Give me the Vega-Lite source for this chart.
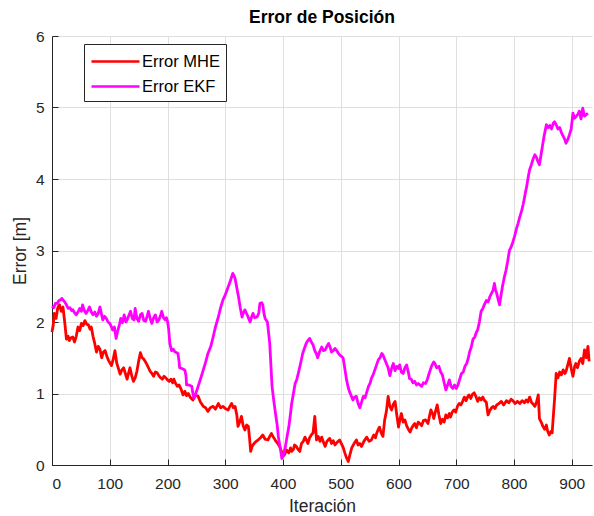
{
  "$schema": "https://vega.github.io/schema/vega-lite/v6.json",
  "width": 540,
  "height": 429,
  "autosize": {"type": "none"},
  "padding": {"left": 52, "top": 36, "right": 2, "bottom": 51},
  "background": "white",
  "title": {"text": "Error de Posición", "fontSize": 17.5, "fontWeight": "bold", "font": "Liberation Sans", "color": "#000000", "offset": 3, "anchor": "middle"},
  "config": {
    "view": {"stroke": null},
    "font": "Liberation Sans",
    "axis": {
      "domainColor": "#262626", "domainWidth": 1, "tickColor": "#262626", "tickSize": -6, "tickWidth": 1,
      "gridColor": "#dfdfdf", "gridWidth": 1,
      "labelFont": "Liberation Sans", "labelFontSize": 15.5, "labelColor": "#262626",
      "titleFont": "Liberation Sans", "titleFontSize": 17.5, "titleColor": "#262626", "titleFontWeight": "normal"
    },
    "axisX": {"labelPadding": 17, "titlePadding": 6},
    "axisY": {"labelPadding": 14, "titlePadding": 6},
    "legend": {
      "orient": "none", "legendX": 32, "legendY": 8, "strokeColor": "#262626", "fillColor": "white", "padding": 6,
      "labelFont": "Liberation Sans", "labelFontSize": 16.5, "labelColor": "#000000", "labelOffset": 29,
      "symbolType": "M-1,0H3.8", "symbolSize": 400, "symbolStrokeWidth": 2.5, "rowPadding": 5
    }
  },
  "layer": [
    {
      "data": {"values": [
        {"i":0,"e":1.86},{"i":2,"e":1.95},{"i":4,"e":2.12},{"i":7,"e":2.05},{"i":10,"e":2.2},{"i":13,"e":2.24},{"i":16,"e":2.15},{"i":19,"e":2.21},{"i":22,"e":2.0},{"i":25,"e":1.76},{"i":28,"e":1.8},{"i":30,"e":1.74},{"i":33,"e":1.78},{"i":36,"e":1.79},{"i":39,"e":1.72},{"i":42,"e":1.8},{"i":45,"e":1.93},{"i":48,"e":1.88},{"i":51,"e":1.98},{"i":54,"e":1.95},{"i":57,"e":2.02},{"i":60,"e":1.97},{"i":63,"e":1.96},{"i":66,"e":1.9},{"i":68,"e":1.93},{"i":71,"e":1.8},{"i":74,"e":1.7},{"i":77,"e":1.58},{"i":80,"e":1.66},{"i":83,"e":1.62},{"i":86,"e":1.5},{"i":89,"e":1.58},{"i":92,"e":1.6},{"i":95,"e":1.52},{"i":98,"e":1.46},{"i":101,"e":1.42},{"i":103,"e":1.39},{"i":106,"e":1.48},{"i":109,"e":1.6},{"i":112,"e":1.43},{"i":115,"e":1.35},{"i":118,"e":1.27},{"i":121,"e":1.33},{"i":124,"e":1.36},{"i":127,"e":1.28},{"i":130,"e":1.2},{"i":133,"e":1.3},{"i":135,"e":1.36},{"i":138,"e":1.25},{"i":141,"e":1.17},{"i":144,"e":1.22},{"i":147,"e":1.31},{"i":150,"e":1.45},{"i":153,"e":1.57},{"i":156,"e":1.5},{"i":159,"e":1.48},{"i":162,"e":1.44},{"i":164,"e":1.41},{"i":167,"e":1.36},{"i":170,"e":1.31},{"i":173,"e":1.28},{"i":176,"e":1.24},{"i":179,"e":1.3},{"i":182,"e":1.29},{"i":185,"e":1.25},{"i":188,"e":1.22},{"i":191,"e":1.2},{"i":194,"e":1.24},{"i":197,"e":1.22},{"i":200,"e":1.19},{"i":203,"e":1.17},{"i":206,"e":1.2},{"i":209,"e":1.15},{"i":211,"e":1.2},{"i":214,"e":1.14},{"i":217,"e":1.1},{"i":220,"e":1.12},{"i":224,"e":1.05},{"i":227,"e":0.98},{"i":230,"e":1.03},{"i":233,"e":0.97},{"i":236,"e":1.0},{"i":240,"e":0.94},{"i":244,"e":0.91},{"i":248,"e":0.98},{"i":253,"e":0.96},{"i":257,"e":0.88},{"i":262,"e":0.82},{"i":266,"e":0.8},{"i":270,"e":0.75},{"i":274,"e":0.8},{"i":279,"e":0.82},{"i":283,"e":0.78},{"i":288,"e":0.86},{"i":292,"e":0.8},{"i":296,"e":0.82},{"i":300,"e":0.79},{"i":305,"e":0.77},{"i":308,"e":0.82},{"i":311,"e":0.86},{"i":314,"e":0.8},{"i":317,"e":0.82},{"i":320,"e":0.7},{"i":322,"e":0.54},{"i":325,"e":0.6},{"i":328,"e":0.68},{"i":331,"e":0.55},{"i":334,"e":0.49},{"i":337,"e":0.56},{"i":340,"e":0.54},{"i":342,"e":0.38},{"i":344,"e":0.19},{"i":346,"e":0.25},{"i":348,"e":0.28},{"i":352,"e":0.32},{"i":357,"e":0.35},{"i":361,"e":0.38},{"i":365,"e":0.42},{"i":369,"e":0.36},{"i":374,"e":0.35},{"i":377,"e":0.4},{"i":380,"e":0.44},{"i":384,"e":0.38},{"i":388,"e":0.33},{"i":391,"e":0.3},{"i":394,"e":0.26},{"i":397,"e":0.2},{"i":400,"e":0.12},{"i":403,"e":0.15},{"i":406,"e":0.21},{"i":410,"e":0.17},{"i":413,"e":0.24},{"i":415,"e":0.19},{"i":418,"e":0.22},{"i":420,"e":0.28},{"i":423,"e":0.26},{"i":426,"e":0.22},{"i":429,"e":0.19},{"i":432,"e":0.3},{"i":435,"e":0.33},{"i":438,"e":0.39},{"i":441,"e":0.34},{"i":443,"e":0.3},{"i":446,"e":0.38},{"i":449,"e":0.42},{"i":452,"e":0.45},{"i":455,"e":0.68},{"i":458,"e":0.35},{"i":461,"e":0.4},{"i":464,"e":0.33},{"i":467,"e":0.39},{"i":470,"e":0.32},{"i":473,"e":0.26},{"i":476,"e":0.33},{"i":479,"e":0.36},{"i":481,"e":0.37},{"i":484,"e":0.3},{"i":487,"e":0.34},{"i":490,"e":0.28},{"i":494,"e":0.32},{"i":498,"e":0.35},{"i":501,"e":0.3},{"i":504,"e":0.25},{"i":507,"e":0.17},{"i":510,"e":0.1},{"i":513,"e":0.05},{"i":516,"e":0.15},{"i":519,"e":0.24},{"i":523,"e":0.3},{"i":527,"e":0.35},{"i":530,"e":0.28},{"i":533,"e":0.3},{"i":536,"e":0.26},{"i":540,"e":0.33},{"i":545,"e":0.39},{"i":549,"e":0.33},{"i":553,"e":0.35},{"i":557,"e":0.42},{"i":560,"e":0.38},{"i":562,"e":0.44},{"i":565,"e":0.5},{"i":567,"e":0.53},{"i":570,"e":0.45},{"i":573,"e":0.4},{"i":576,"e":0.63},{"i":579,"e":0.75},{"i":582,"e":0.96},{"i":585,"e":0.82},{"i":588,"e":0.77},{"i":591,"e":0.85},{"i":594,"e":0.89},{"i":597,"e":0.7},{"i":600,"e":0.53},{"i":603,"e":0.66},{"i":605,"e":0.72},{"i":608,"e":0.6},{"i":611,"e":0.63},{"i":614,"e":0.55},{"i":617,"e":0.5},{"i":620,"e":0.46},{"i":623,"e":0.52},{"i":626,"e":0.56},{"i":628,"e":0.58},{"i":631,"e":0.52},{"i":634,"e":0.6},{"i":637,"e":0.58},{"i":640,"e":0.55},{"i":643,"e":0.62},{"i":647,"e":0.63},{"i":651,"e":0.58},{"i":654,"e":0.7},{"i":656,"e":0.77},{"i":659,"e":0.72},{"i":661,"e":0.65},{"i":664,"e":0.75},{"i":667,"e":0.84},{"i":670,"e":0.7},{"i":673,"e":0.58},{"i":676,"e":0.64},{"i":679,"e":0.6},{"i":682,"e":0.7},{"i":685,"e":0.66},{"i":688,"e":0.72},{"i":690,"e":0.67},{"i":693,"e":0.74},{"i":696,"e":0.77},{"i":699,"e":0.74},{"i":702,"e":0.82},{"i":705,"e":0.86},{"i":708,"e":0.84},{"i":711,"e":0.89},{"i":714,"e":0.95},{"i":717,"e":0.9},{"i":720,"e":0.96},{"i":722,"e":0.98},{"i":725,"e":0.93},{"i":728,"e":0.99},{"i":731,"e":1.01},{"i":734,"e":0.96},{"i":737,"e":0.89},{"i":740,"e":0.94},{"i":743,"e":0.91},{"i":746,"e":0.95},{"i":749,"e":0.9},{"i":752,"e":0.88},{"i":755,"e":0.7},{"i":758,"e":0.76},{"i":761,"e":0.8},{"i":764,"e":0.82},{"i":767,"e":0.79},{"i":770,"e":0.84},{"i":774,"e":0.86},{"i":778,"e":0.89},{"i":782,"e":0.84},{"i":787,"e":0.9},{"i":791,"e":0.87},{"i":795,"e":0.92},{"i":798,"e":0.9},{"i":802,"e":0.86},{"i":806,"e":0.89},{"i":810,"e":0.86},{"i":814,"e":0.9},{"i":818,"e":0.87},{"i":821,"e":0.91},{"i":824,"e":0.88},{"i":827,"e":0.95},{"i":830,"e":0.88},{"i":833,"e":0.85},{"i":836,"e":0.82},{"i":839,"e":0.88},{"i":842,"e":0.98},{"i":844,"e":0.65},{"i":847,"e":0.6},{"i":850,"e":0.54},{"i":853,"e":0.5},{"i":856,"e":0.56},{"i":858,"e":0.48},{"i":861,"e":0.42},{"i":864,"e":0.47},{"i":866,"e":0.45},{"i":868,"e":0.68},{"i":870,"e":0.9},{"i":873,"e":1.28},{"i":876,"e":1.22},{"i":879,"e":1.3},{"i":882,"e":1.26},{"i":885,"e":1.33},{"i":888,"e":1.28},{"i":890,"e":1.31},{"i":893,"e":1.4},{"i":896,"e":1.49},{"i":899,"e":1.35},{"i":902,"e":1.24},{"i":905,"e":1.38},{"i":907,"e":1.42},{"i":910,"e":1.36},{"i":913,"e":1.45},{"i":916,"e":1.49},{"i":919,"e":1.42},{"i":922,"e":1.61},{"i":925,"e":1.5},{"i":928,"e":1.66},{"i":930,"e":1.45}
      ]},
      "mark": {"type": "line", "strokeWidth": 2.8, "strokeJoin": "round"},
      "encoding": {
        "x": {"field": "i", "type": "quantitative", "scale": {"domain": [0, 935], "nice": false, "zero": false}, "axis": {"values": [0,100,200,300,400,500,600,700,800,900], "title": "Iteración"}},
        "y": {"field": "e", "type": "quantitative", "scale": {"domain": [0, 6], "nice": false}, "axis": {"values": [0,1,2,3,4,5,6], "format": "d", "title": "Error [m]"}},
        "color": {"datum": "Error MHE", "type": "nominal", "scale": {"domain": ["Error MHE", "Error EKF"], "range": ["#ff0000", "#ff00ff"]}, "legend": {"title": null}}
      }
    },
    {
      "data": {"values": [
        {"i":0,"e":2.22},{"i":3,"e":2.2},{"i":6,"e":2.26},{"i":9,"e":2.26},{"i":12,"e":2.3},{"i":15,"e":2.31},{"i":17,"e":2.33},{"i":20,"e":2.3},{"i":22,"e":2.28},{"i":25,"e":2.24},{"i":28,"e":2.19},{"i":31,"e":2.2},{"i":34,"e":2.16},{"i":36,"e":2.17},{"i":39,"e":2.13},{"i":42,"e":2.1},{"i":45,"e":2.14},{"i":48,"e":2.19},{"i":51,"e":2.15},{"i":53,"e":2.24},{"i":56,"e":2.16},{"i":59,"e":2.12},{"i":62,"e":2.16},{"i":65,"e":2.21},{"i":68,"e":2.14},{"i":71,"e":2.1},{"i":74,"e":2.14},{"i":77,"e":2.08},{"i":80,"e":2.12},{"i":83,"e":2.21},{"i":86,"e":2.1},{"i":88,"e":2.03},{"i":91,"e":2.08},{"i":94,"e":2.05},{"i":97,"e":2.0},{"i":100,"e":1.98},{"i":103,"e":1.93},{"i":105,"e":1.89},{"i":108,"e":1.93},{"i":111,"e":1.77},{"i":113,"e":1.85},{"i":115,"e":1.91},{"i":117,"e":1.97},{"i":119,"e":2.05},{"i":122,"e":1.99},{"i":125,"e":2.1},{"i":128,"e":2.0},{"i":130,"e":2.03},{"i":133,"e":2.09},{"i":136,"e":2.15},{"i":139,"e":2.05},{"i":142,"e":2.03},{"i":144,"e":2.19},{"i":147,"e":2.05},{"i":150,"e":2.01},{"i":153,"e":2.1},{"i":156,"e":2.12},{"i":159,"e":2.02},{"i":162,"e":2.01},{"i":165,"e":2.09},{"i":167,"e":2.15},{"i":170,"e":2.05},{"i":173,"e":1.98},{"i":176,"e":2.06},{"i":179,"e":2.1},{"i":182,"e":2.0},{"i":185,"e":2.03},{"i":188,"e":2.09},{"i":190,"e":2.15},{"i":193,"e":2.06},{"i":196,"e":2.03},{"i":198,"e":2.06},{"i":200,"e":2.01},{"i":202,"e":1.9},{"i":204,"e":1.7},{"i":207,"e":1.6},{"i":210,"e":1.62},{"i":213,"e":1.58},{"i":216,"e":1.57},{"i":218,"e":1.56},{"i":220,"e":1.45},{"i":221,"e":1.36},{"i":225,"e":1.35},{"i":230,"e":1.33},{"i":232,"e":1.25},{"i":233,"e":1.12},{"i":237,"e":1.12},{"i":242,"e":1.1},{"i":244,"e":1.0},{"i":246,"e":0.93},{"i":249,"e":1.0},{"i":253,"e":1.1},{"i":257,"e":1.2},{"i":262,"e":1.33},{"i":266,"e":1.44},{"i":270,"e":1.56},{"i":275,"e":1.66},{"i":279,"e":1.79},{"i":283,"e":1.93},{"i":288,"e":2.07},{"i":292,"e":2.2},{"i":296,"e":2.31},{"i":300,"e":2.38},{"i":305,"e":2.49},{"i":309,"e":2.58},{"i":313,"e":2.68},{"i":315,"e":2.65},{"i":317,"e":2.61},{"i":320,"e":2.48},{"i":323,"e":2.35},{"i":326,"e":2.2},{"i":329,"e":2.07},{"i":331,"e":2.12},{"i":334,"e":2.17},{"i":336,"e":2.13},{"i":338,"e":2.1},{"i":341,"e":2.04},{"i":343,"e":2.0},{"i":346,"e":2.08},{"i":348,"e":2.12},{"i":351,"e":2.06},{"i":355,"e":2.07},{"i":358,"e":2.12},{"i":360,"e":2.26},{"i":363,"e":2.27},{"i":365,"e":2.24},{"i":367,"e":2.12},{"i":369,"e":2.05},{"i":373,"e":2.0},{"i":375,"e":1.85},{"i":377,"e":1.7},{"i":379,"e":1.4},{"i":381,"e":1.1},{"i":384,"e":0.9},{"i":387,"e":0.72},{"i":390,"e":0.55},{"i":392,"e":0.39},{"i":395,"e":0.25},{"i":398,"e":0.09},{"i":401,"e":0.15},{"i":404,"e":0.25},{"i":407,"e":0.4},{"i":410,"e":0.53},{"i":413,"e":0.72},{"i":415,"e":0.86},{"i":418,"e":1.0},{"i":421,"e":1.14},{"i":424,"e":1.2},{"i":427,"e":1.3},{"i":429,"e":1.37},{"i":432,"e":1.48},{"i":434,"e":1.56},{"i":437,"e":1.63},{"i":440,"e":1.7},{"i":443,"e":1.74},{"i":446,"e":1.77},{"i":449,"e":1.72},{"i":452,"e":1.68},{"i":455,"e":1.6},{"i":458,"e":1.55},{"i":460,"e":1.5},{"i":463,"e":1.58},{"i":467,"e":1.65},{"i":470,"e":1.6},{"i":473,"e":1.61},{"i":476,"e":1.66},{"i":479,"e":1.7},{"i":482,"e":1.64},{"i":484,"e":1.58},{"i":487,"e":1.6},{"i":490,"e":1.63},{"i":493,"e":1.6},{"i":496,"e":1.56},{"i":498,"e":1.54},{"i":501,"e":1.52},{"i":504,"e":1.5},{"i":507,"e":1.35},{"i":510,"e":1.19},{"i":513,"e":1.08},{"i":515,"e":1.03},{"i":518,"e":0.97},{"i":521,"e":0.91},{"i":524,"e":0.95},{"i":527,"e":0.96},{"i":530,"e":0.86},{"i":533,"e":0.8},{"i":536,"e":0.88},{"i":539,"e":0.96},{"i":542,"e":0.94},{"i":545,"e":1.02},{"i":548,"e":1.1},{"i":551,"e":1.15},{"i":553,"e":1.21},{"i":556,"e":1.26},{"i":559,"e":1.33},{"i":562,"e":1.4},{"i":565,"e":1.47},{"i":568,"e":1.5},{"i":571,"e":1.56},{"i":573,"e":1.54},{"i":576,"e":1.48},{"i":579,"e":1.42},{"i":582,"e":1.36},{"i":585,"e":1.25},{"i":588,"e":1.35},{"i":591,"e":1.42},{"i":594,"e":1.32},{"i":597,"e":1.38},{"i":600,"e":1.35},{"i":602,"e":1.4},{"i":605,"e":1.3},{"i":608,"e":1.28},{"i":611,"e":1.36},{"i":614,"e":1.4},{"i":617,"e":1.3},{"i":619,"e":1.21},{"i":622,"e":1.2},{"i":625,"e":1.15},{"i":628,"e":1.17},{"i":631,"e":1.12},{"i":634,"e":1.14},{"i":637,"e":1.12},{"i":640,"e":1.1},{"i":643,"e":1.15},{"i":647,"e":1.14},{"i":650,"e":1.2},{"i":653,"e":1.28},{"i":655,"e":1.33},{"i":658,"e":1.4},{"i":661,"e":1.44},{"i":663,"e":1.42},{"i":666,"e":1.36},{"i":670,"e":1.38},{"i":673,"e":1.3},{"i":676,"e":1.26},{"i":679,"e":1.15},{"i":682,"e":1.05},{"i":685,"e":1.12},{"i":688,"e":1.19},{"i":691,"e":1.1},{"i":694,"e":1.07},{"i":697,"e":1.12},{"i":700,"e":1.07},{"i":703,"e":1.12},{"i":706,"e":1.2},{"i":709,"e":1.28},{"i":712,"e":1.3},{"i":715,"e":1.38},{"i":718,"e":1.42},{"i":721,"e":1.5},{"i":723,"e":1.58},{"i":726,"e":1.65},{"i":729,"e":1.76},{"i":732,"e":1.79},{"i":735,"e":1.86},{"i":737,"e":1.89},{"i":740,"e":2.0},{"i":743,"e":2.15},{"i":746,"e":2.19},{"i":749,"e":2.25},{"i":752,"e":2.3},{"i":755,"e":2.28},{"i":758,"e":2.35},{"i":761,"e":2.4},{"i":764,"e":2.45},{"i":766,"e":2.54},{"i":768,"e":2.45},{"i":770,"e":2.4},{"i":773,"e":2.3},{"i":775,"e":2.24},{"i":777,"e":2.35},{"i":780,"e":2.5},{"i":783,"e":2.62},{"i":786,"e":2.72},{"i":789,"e":2.85},{"i":792,"e":3.0},{"i":795,"e":3.05},{"i":798,"e":3.12},{"i":801,"e":3.2},{"i":804,"e":3.3},{"i":807,"e":3.38},{"i":810,"e":3.47},{"i":813,"e":3.55},{"i":816,"e":3.65},{"i":819,"e":3.78},{"i":822,"e":3.9},{"i":825,"e":4.05},{"i":827,"e":4.13},{"i":830,"e":4.2},{"i":833,"e":4.28},{"i":836,"e":4.34},{"i":839,"e":4.3},{"i":841,"e":4.25},{"i":844,"e":4.2},{"i":846,"e":4.3},{"i":849,"e":4.45},{"i":852,"e":4.6},{"i":856,"e":4.76},{"i":859,"e":4.72},{"i":862,"e":4.75},{"i":865,"e":4.7},{"i":868,"e":4.78},{"i":870,"e":4.8},{"i":873,"e":4.76},{"i":876,"e":4.7},{"i":879,"e":4.72},{"i":882,"e":4.65},{"i":885,"e":4.6},{"i":888,"e":4.55},{"i":890,"e":4.5},{"i":893,"e":4.55},{"i":896,"e":4.62},{"i":899,"e":4.7},{"i":902,"e":4.92},{"i":905,"e":4.85},{"i":908,"e":4.88},{"i":911,"e":4.91},{"i":913,"e":4.95},{"i":916,"e":4.84},{"i":919,"e":4.99},{"i":922,"e":4.88},{"i":925,"e":4.9},{"i":928,"e":4.92}
      ]},
      "mark": {"type": "line", "strokeWidth": 2.8, "strokeJoin": "round"},
      "encoding": {
        "x": {"field": "i", "type": "quantitative"},
        "y": {"field": "e", "type": "quantitative"},
        "color": {"datum": "Error EKF", "type": "nominal"}
      }
    }
  ]
}
